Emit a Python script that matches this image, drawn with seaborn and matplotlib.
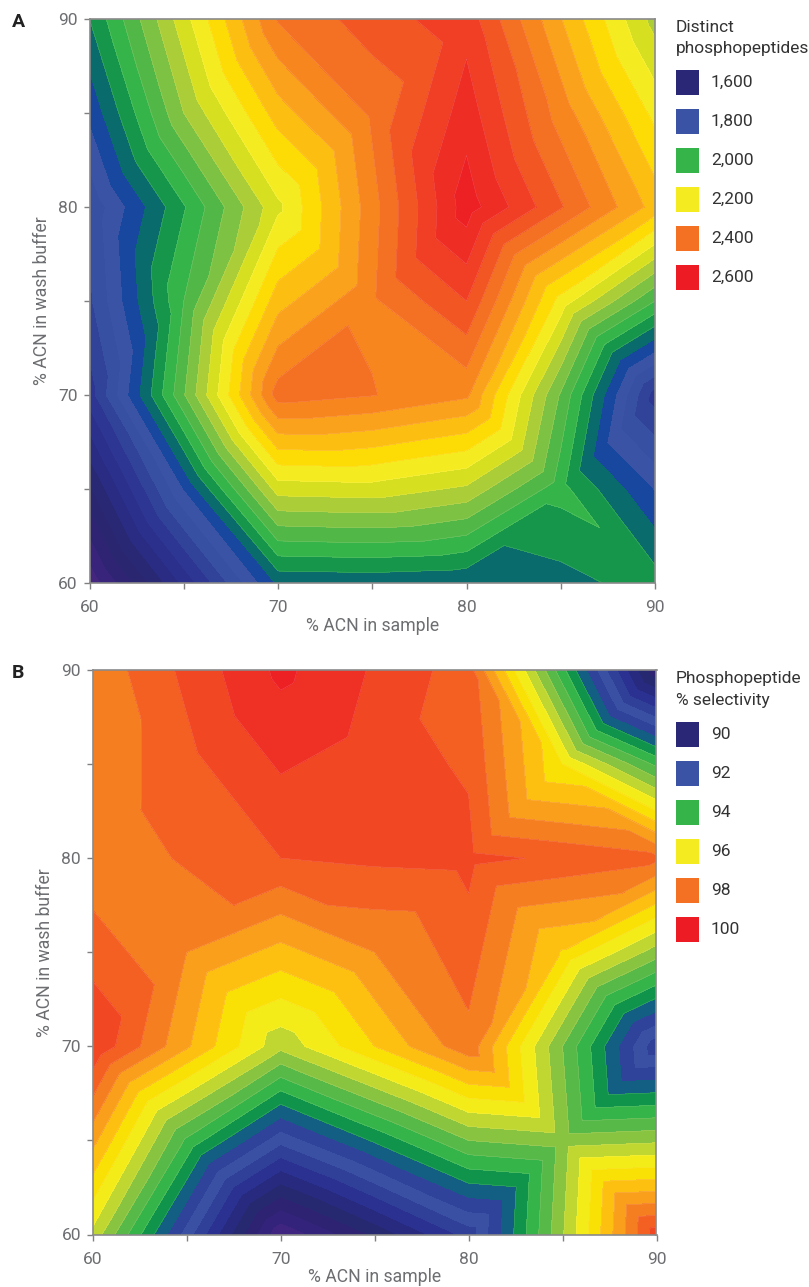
import numpy as np
import matplotlib
matplotlib.use("Agg")
import matplotlib.pyplot as plt
import matplotlib.tri as mtri
from matplotlib.patches import Rectangle
import seaborn as sns

W, H = 809, 1287

acn_sample = [60, 65, 70, 75, 80, 85, 90]
acn_wash = [60, 65, 70, 75, 80, 85, 90]

# rows run from 60 % wash buffer up to 90 %
phospho_60 = [1428, 1670, 1908, 1912, 1904, 1924, 1960]
phospho_65 = [1572, 1860, 2158, 2164, 2132, 1994, 1856]
phospho_70 = [1720, 2056, 2400, 2382, 2348, 2055, 1720]
phospho_75 = [1772, 2020, 2284, 2373, 2460, 2204, 2020]
phospho_80 = [1788, 1976, 2170, 2364, 2562, 2424, 2284]
phospho_85 = [1868, 2100, 2280, 2388, 2522, 2362, 2208]
phospho_90 = [1940, 2164, 2384, 2440, 2484, 2302, 2124]

select_60 = [95.6, 92.0, 88.3, 89.85, 91.45, 95.2, 99.03]
select_65 = [97.42, 94.15, 91.9, 93.33, 94.75, 95.0, 95.15]
select_70 = [99.2, 97.33, 95.4, 96.75, 98.1, 94.75, 91.4]
select_75 = [98.55, 97.75, 97.07, 97.75, 98.5, 96.7, 95.0]
select_80 = [97.88, 98.32, 98.75, 98.85, 98.9, 98.65, 98.38]
select_85 = [97.87, 98.6, 99.31, 99.0, 98.68, 96.25, 94.13]
select_90 = [97.88, 98.88, 99.87, 99.19, 98.48, 93.9, 89.3]

phospho_labels = ["1,600", "1,800", "2,000", "2,200", "2,400", "2,600"]
select_labels = ["90", "92", "94", "96", "98", "100"]

phospho_colors = ["#44267F", "#38247A", "#2F2474", "#2B2670", "#292875", "#2A2B82",
                  "#2B308C", "#2D3793", "#314399", "#3850A2", "#3A53A4", "#17479E",
                  "#0A6B6C", "#16964A", "#35B44A", "#51B848", "#7DC242", "#ABCD37",
                  "#D6DF20", "#F4EC20", "#FDDB05", "#FDBE12", "#FBA21C", "#F7861F",
                  "#F47023", "#F15623", "#F03F24", "#EE2D25", "#ED2024"]
select_colors = ["#3F2580", "#34237A", "#2E2373", "#262870", "#282A7F", "#2A3190",
                 "#304099", "#3A50A2", "#2F439B", "#135F84", "#10934A", "#35B44A",
                 "#57B947", "#88C440", "#BFD730", "#F3EC18", "#F9E106", "#FDBF10",
                 "#F99F1C", "#F57F20", "#F36022", "#F14823", "#EF3024", "#ED2024"]
swatches = ["#2A2777", "#3A53A4", "#35B44A", "#F4EC20", "#F47023", "#ED1C24"]

sns.set_theme(style="ticks")
plt.rcParams["font.family"] = ["Roboto", "DejaVu Sans"]
GREY = "#6D6E71"


def union_jack(nx, ny):
    # cell diagonals all run through the grid nodes with an even index sum
    tris = []
    for j in range(ny - 1):
        for i in range(nx - 1):
            a, b = j * nx + i, j * nx + i + 1
            c, d = (j + 1) * nx + i, (j + 1) * nx + i + 1
            if (i + j) % 2 == 0:
                tris += [[a, b, d], [a, d, c]]
            else:
                tris += [[a, b, c], [b, d, c]]
    return tris


def draw_panel(fig, box, rows, levels, colors, letter, title, labels, legend_top, first_line):
    left, top, right, bottom = box
    ax = fig.add_axes([left / W, 1 - bottom / H, (right - left) / W, (bottom - top) / H])
    xx, yy = np.meshgrid(acn_sample, acn_wash)
    mesh = mtri.Triangulation(xx.ravel(), yy.ravel(), union_jack(len(acn_sample), len(acn_wash)))
    z = np.array(rows).ravel()
    pal = sns.color_palette(colors)
    ax.tricontourf(mesh, z, levels=levels, colors=pal)
    # the faint seams only show up on the green to red bands
    ax.tricontour(mesh, z, levels=levels[first_line:], colors="white", linewidths=0.25, alpha=0.3)
    ax.set_xlim(60, 90)
    ax.set_ylim(60, 90)
    names = [str(t) if t % 10 == 0 else "" for t in acn_sample]
    ax.set_xticks(acn_sample, names)
    ax.set_yticks(acn_wash, names)
    ax.tick_params(length=4.5, width=1, color="#808080", labelcolor=GREY, labelsize=12.5)
    ax.tick_params(axis="x", pad=8)
    ax.tick_params(axis="y", pad=4)
    for s in ax.spines.values():
        s.set_color("#8A8A8A")
        s.set_linewidth(1.2)
    ax.set_xlabel("% ACN in sample", color=GREY, fontsize=12.7, labelpad=1)
    ax.set_ylabel("% ACN in wash buffer", color=GREY, fontsize=12.7, labelpad=5)

    fig.text(12 / W, 1 - (top + 3) / H, letter, fontsize=14, fontweight="bold",
             color="#222222", va="center", ha="left")
    fig.text(676 / W, 1 - (top + 8) / H, title[0], fontsize=12.5, color="#333333", va="center")
    fig.text(676 / W, 1 - (top + 30) / H, title[1], fontsize=12.5, color="#333333", va="center")
    for i, lab in enumerate(labels):
        y = legend_top + i * 38.9
        fig.add_artist(Rectangle((676 / W, 1 - (y + 25) / H), 23 / W, 25 / H,
                                 transform=fig.transFigure, color=swatches[i], lw=0))
        fig.text(711 / W, 1 - (y + 12.5) / H, lab, fontsize=12.5, color="#333333", va="center")
    return ax


fig = plt.figure(figsize=(W / 100, H / 100), dpi=100)

phospho = [phospho_60, phospho_65, phospho_70, phospho_75, phospho_80, phospho_85, phospho_90]
select = [select_60, select_65, select_70, select_75, select_80, select_85, select_90]

draw_panel(fig, (89.5, 19, 655, 583), phospho, np.arange(1420, 2581, 40), phospho_colors,
           "A", ["Distinct", "phosphopeptides"], phospho_labels, 70, 13)
draw_panel(fig, (92.7, 670, 656.5, 1234.5), select, np.arange(88.25, 100.26, 0.5), select_colors,
           "B", ["Phosphopeptide", "% selectivity"], select_labels, 722, 10)

fig.savefig("out.png", dpi=100)
